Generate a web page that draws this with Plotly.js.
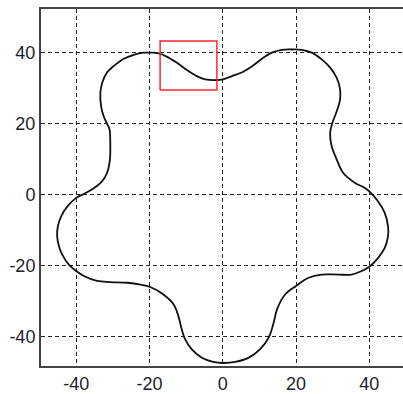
<!DOCTYPE html>
<html>
<head>
<meta charset="utf-8">
<script src="https://cdn.plot.ly/plotly-3.0.1.min.js"></script>
<style>
html, body { margin: 0; padding: 0; overflow: hidden; background: #fff; }
#chart { width: 406px; height: 394px; }
</style>
</head>
<body>
<div id="chart"></div>
<script>
// Curve points (counter-clockwise, starting on the flat lower-left stretch)
const curveX = [-26.1, -22.5, -19.8, -16.2, -13.4, -12.1, -11.2, -10.3, -8.5, -5.7, -2.6, 0, 3.4, 7.1, 10.2, 12.5, 13.9, 14.8, 17.0, 20, 23.4, 27.0, 31.6, 35.2, 37.9, 40, 42.4, 44.2, 45.1, 45.1, 44.2, 42.4, 40.2, 38.8, 36.1, 32.9, 31.1, 29.7, 29.3, 29.9, 31.1, 32.0, 32.0, 31.1, 29.3, 27.0, 24.3, 21.6, 18.9, 16.1, 13.4, 10.7, 8.0, 5.3, 2.5, 0, -1.6, -4.8, -7.1, -9.8, -12.6, -15.3, -17.5, -20, -21.6, -24.3, -27.0, -29.8, -31.6, -32.9, -33.4, -33.2, -32.5, -31.6, -30.9, -30.7, -30.8, -31.6, -32.9, -35.2, -37.9, -40, -42.4, -44.1, -45.0, -45.2, -44.7, -43.8, -42.0, -40, -37.9, -34.3, -30.7, -26.1];
const curveY = [-24.8, -25.3, -26.0, -28.1, -30.9, -34.2, -37.9, -40.7, -43.5, -45.9, -47.1, -47.4, -47.1, -45.9, -43.5, -40.3, -36.0, -32.3, -28.1, -25.7, -23.4, -22.5, -22.5, -22.5, -21.5, -20.3, -17.8, -15.0, -11.7, -8.9, -5.1, -1.9, 0.7, 1.9, 3.3, 6.1, 9.9, 13.7, 17.4, 20.2, 23.5, 26.8, 29.7, 32.9, 35.8, 38.1, 40.0, 40.8, 40.9, 40.8, 40.0, 38.3, 36.2, 34.5, 33.4, 32.5, 32.3, 32.5, 33.4, 35.1, 37.2, 38.9, 39.8, 40, 40.0, 39.4, 38.3, 36.2, 34.4, 31.5, 28.7, 24.9, 22.1, 20.0, 18.4, 14.6, 9.9, 6.1, 3.8, 1.8, 0.2, -0.9, -3.3, -6.1, -8.9, -11.7, -14.5, -16.9, -19.7, -21.5, -22.9, -24.3, -24.6, -24.8];

// Red box corners
const boxX = [-17.1, -1.6, -1.6, -17.1, -17.1];
const boxY = [29.5, 29.5, 43.3, 43.3, 29.5];

// Tick values and labels
const tickVals = [-40, -20, 0, 20, 40];
const tickText = ['-40', '-20', '0', '20', '40'];

const traces = [
  {
    x: curveX, y: curveY, type: 'scatter', mode: 'lines',
    line: { color: '#111111', width: 1.8, shape: 'spline', smoothing: 1 },
    hoverinfo: 'skip', showlegend: false
  },
  {
    x: boxX, y: boxY, type: 'scatter', mode: 'lines',
    line: { color: '#ff2a2a', width: 1.5 },
    hoverinfo: 'skip', showlegend: false
  }
];

const axisCommon = {
  tickmode: 'array',
  tickvals: tickVals,
  ticktext: tickText,
  showgrid: true,
  gridcolor: '#222222',
  griddash: '4px,3px',
  gridwidth: 1,
  zeroline: false,
  showline: true,
  linecolor: '#444444',
  linewidth: 2,
  mirror: true,
  ticks: '',
  tickfont: { family: 'Liberation Sans, Arial, sans-serif', size: 18, color: '#1e1e2a' }
};

const layout = {
  width: 406,
  height: 394,
  autosize: false,
  margin: { l: 41, r: 0, t: 9, b: 28, pad: 0 },
  paper_bgcolor: '#ffffff',
  plot_bgcolor: '#ffffff',
  showlegend: false,
  xaxis: Object.assign({}, axisCommon, { range: [-49.6, 50] }),
  yaxis: Object.assign({}, axisCommon, { range: [-48.25, 52.3] })
};

Plotly.newPlot('chart', traces, layout, { staticPlot: true, displayModeBar: false });
</script>
</body>
</html>
